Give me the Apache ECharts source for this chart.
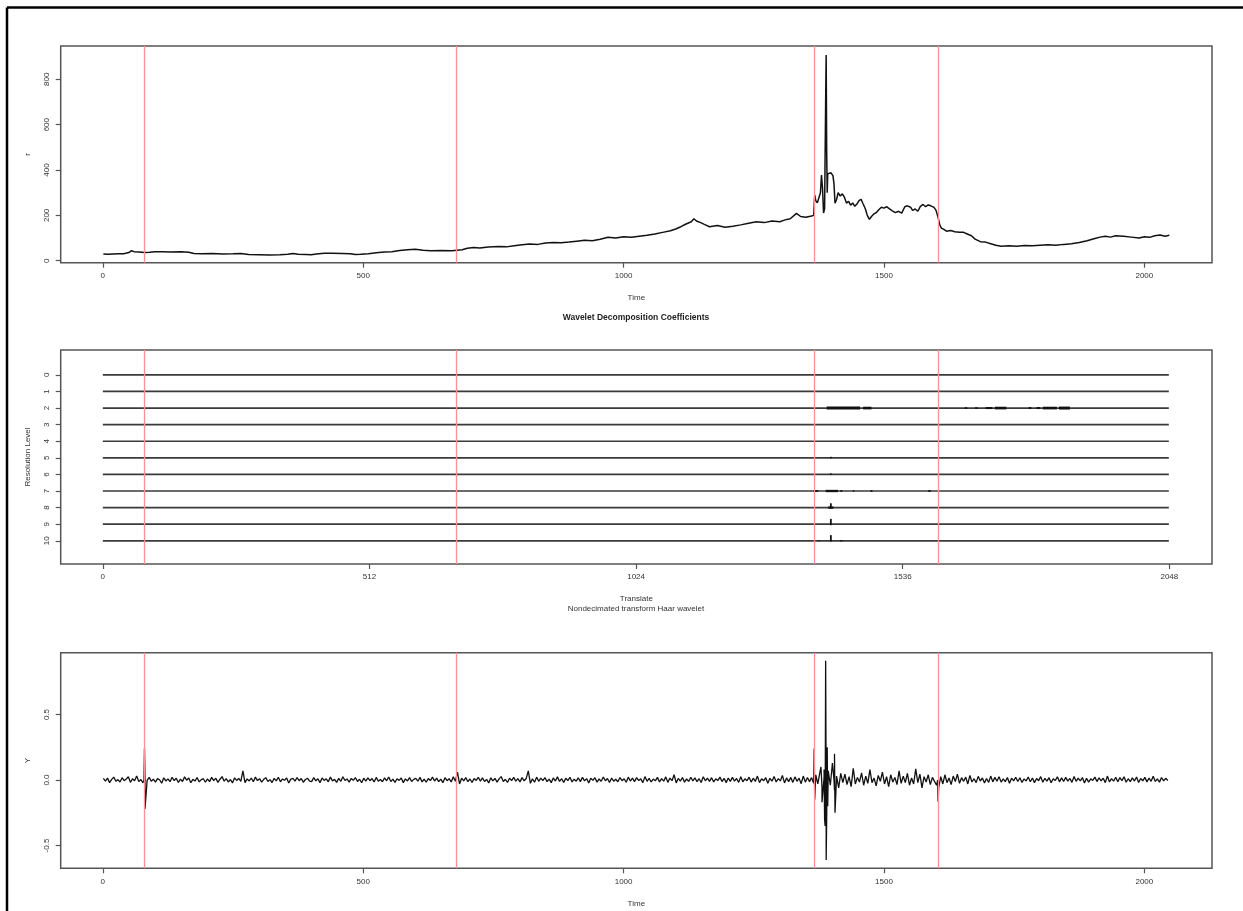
<!DOCTYPE html>
<html><head><meta charset="utf-8">
<script src="https://cdn.jsdelivr.net/npm/echarts@6/dist/echarts.min.js"></script>
<style>html,body{margin:0;padding:0;background:#fff}#c{width:1243px;height:911px}</style>
</head><body><div id="c"></div><script>
// ---------- DATA ----------
const topTime = [1,10,20,30,40,50,55,60,70,80,90,100,115,130,150,165,175,190,210,230,250,265,280,300,320,340,355,365,375,390,400,410,425,440,460,475,485,495,510,525,540,555,570,585,600,615,630,650,670,680,690,700,712,724,740,760,775,790,805,820,835,850,865,880,895,910,925,940,955,970,985,1000,1015,1030,1045,1060,1075,1090,1100,1110,1120,1130,1135,1140,1148,1155,1165,1180,1195,1210,1225,1240,1255,1270,1285,1300,1310,1320,1332,1340,1350,1361,1365,1367,1369,1372,1375,1378,1380,1382,1384,1386,1388,1389,1390,1391,1392,1395,1398,1402,1404,1406,1409,1412,1416,1420,1424,1428,1432,1436,1440,1444,1448,1452,1456,1460,1464,1468,1472,1476,1480,1485,1490,1495,1500,1505,1510,1516,1522,1528,1534,1540,1545,1551,1555,1560,1565,1570,1575,1580,1585,1590,1596,1600,1604,1607,1610,1615,1620,1628,1636,1645,1653,1660,1668,1675,1685,1695,1705,1715,1725,1740,1755,1770,1785,1800,1815,1830,1845,1860,1875,1890,1905,1915,1925,1935,1945,1960,1975,1990,2000,2010,2020,2030,2040,2048];
const topPrice = [30,29,30,31,31,36,44,40,38,36,37,39,40,38,40,37,32,31,32,30,31,32,27,26,25,26,28,32,28,27,26,30,33,33,32,31,27,28,31,35,38,40,45,48,50,46,44,45,44,46,48,55,58,56,60,63,61,66,70,74,72,78,80,79,82,86,90,88,95,103,100,106,103,108,112,118,125,132,140,150,162,172,185,175,168,160,150,155,148,152,158,165,172,168,175,172,180,185,209,195,192,197,200,290,265,255,262,300,378,320,210,230,700,907,480,300,383,380,388,375,340,254,270,300,285,295,280,254,262,245,255,240,250,265,271,250,230,200,182,195,205,212,225,236,232,238,230,220,212,218,210,238,242,236,222,228,218,240,248,238,246,242,235,222,190,160,144,138,130,133,128,126,125,118,110,95,84,82,75,68,64,66,64,67,66,68,70,68,72,75,80,88,98,104,108,104,110,108,104,100,106,103,110,113,108,112];

// returns, sampled every 4 time steps from t = 1, in thousandths
const retStartTime = 1;
const retStep = 4;
const retThousandths = [
12,-8,15,-20,5,22,-10,3,-15,18,-5,8,25,-18,10,-6,30,-12,4,-22,14,-3,20,-9,6,-16,11,2,-25,17,-7,9,-13,21,-4,13,-19,7,-11,24,-2,16,-21,5,-8,19,-14,3,10,-17,
8,-12,20,-5,14,-18,6,26,-9,11,-15,4,-22,17,-3,12,-10,70,-20,9,-7,15,-13,22,-4,10,-16,5,18,-11,3,-19,13,-6,21,-14,8,-2,16,-23,7,12,-9,19,-5,11,-17,4,14,-8,
-12,18,-6,10,-20,15,-3,9,-14,22,-7,5,-18,13,-10,25,-4,8,-16,12,-2,19,-11,6,-21,14,-8,17,-5,11,-15,20,-9,4,-13,16,-6,23,-12,7,-18,10,-3,15,-20,9,-7,18,-11,5,
13,-9,20,-14,6,-17,11,-4,22,-8,15,-12,7,-20,18,-5,10,-15,25,-10,60,-30,14,-6,19,-13,8,-18,12,-3,21,-9,16,-11,5,-22,17,-7,13,-16,9,26,-12,6,-19,14,-4,20,-8,11,
-14,18,-6,12,70,-25,9,-17,22,-10,15,-5,19,-13,7,-20,16,-8,24,-11,10,-18,13,-4,21,-15,6,-9,17,-12,20,-7,11,-22,14,-3,18,-16,8,-10,23,-6,12,-19,15,-9,6,-13,19,-5,
10,-17,22,-8,14,-12,18,-4,9,-20,26,-10,13,-15,7,-6,20,-14,11,-9,24,-18,15,-5,40,-22,12,-8,19,-16,8,-11,21,-7,16,-13,10,-19,25,-6,14,-10,18,-15,9,-4,22,-12,13,-20,
15,-10,20,-8,12,-18,25,-14,9,-6,22,-16,14,-11,30,-20,10,-5,18,-24,13,-9,27,-15,11,-7,35,-22,16,-12,20,-18,24,-10,14,-28,30,-16,19,-12,
18,-25,40,-30,60,-55,20,-90,70,-40,130,-80,30,-60,50,-20,45,-35,25,-50,90,-30,20,-15,55,-40,30,-25,80,-20,15,-45,35,-10,60,-30,25,-50,40,-15,20,-35,70,-25,30,-20,50,-40,15,-30,85,-20,45,-60,25,-15,40,-35,20,-10,
-40,-60,25,-30,40,-20,15,-35,30,-12,45,-25,18,-10,22,-30,35,-15,10,-20,28,-8,16,-22,12,-18,30,-14,20,-9,25,-16,8,-12,19,-24,14,-6,21,-11,17,-19,9,-7,23,-13,15,-20,11,-5,26,-17,13,-9,18,-21,10,-4,24,-14,16,-11,20,-8,12,-18,27,-10,15,-6,19,-23,13,-16,9,-3,22,-12,17,-7,14,-20,30,-15,11,-9,21,-13,18,-5,25,-17,10,-12,16,-8,23,-19,12,-6,20,-14,15,-10,28,-11,9,-16,19,-7,13,-4
];
const retSpikeTime  = [79,80,81,1366,1367,1379,1381,1385,1386,1387,1388,1389,1390,1391,1392,1404,1405,1406,1603,1604];
const retSpikeValue = [0.0,0.24,-0.22,0.24,-0.15,0.10,-0.17,0.08,-0.30,-0.35,0.91,-0.61,-0.30,0.25,-0.20,0.0,0.20,-0.25,0.0,-0.165];

const breakTimes = [80, 678, 1366, 1604];

const levels = [0,1,2,3,4,5,6,7,8,9,10];
const levelLineRange = [0, 2047];
// [level, start, end, half-height] dense coefficient clusters
const coefBlocks = [
  [2,1390,1454,0.09],[2,1460,1476,0.08],[2,1655,1660,0.05],[2,1675,1680,0.05],[2,1695,1708,0.06],
  [2,1713,1735,0.08],[2,1778,1783,0.06],[2,1793,1800,0.06],[2,1805,1832,0.08],[2,1836,1857,0.09],
  [7,1365,1374,0.05],[7,1388,1412,0.07],[7,1416,1420,0.05],[7,1440,1443,0.04],[7,1474,1478,0.05],[7,1585,1590,0.05],
  [8,1393,1403,0.07],[10,1416,1420,0.04],[10,1373,1376,0.03]
];
// [level, time, up, down] single large coefficients
const coefSpikes = [
  [5,1398,0.06,0.03],[6,1398,0.06,0.03],[8,1398,0.26,0.05],[9,1398,0.32,0.06],[10,1398,0.34,0.05]
];

const timeTicks = [0,500,1000,1500,2000];
const translateTicks = [0,512,1024,1536,2048];
const topTicks = [0,200,400,600,800];
const levelTicks = [0,1,2,3,4,5,6,7,8,9,10];
const bottomTicks = [-0.5,0,0.5];

// ---------- BUILD ----------
const topData = topTime.map((t,i)=>[t, topPrice[i]]);
const retData = retThousandths.map((v,i)=>[retStartTime + retStep*i, v/1000])
  .concat(retSpikeTime.map((t,i)=>[t, retSpikeValue[i]]))
  .sort((a,b)=>a[0]-b[0]);

const FONT = 'Liberation Sans, Arial, sans-serif';
const TXT = '#333';
const BOX = '#555';

function xAxis(gridIndex, ticks, name){
  return {
    type:'value', gridIndex, min:-80.9, max:2129.9,
    name, nameLocation:'middle', nameGap:31,
    nameTextStyle:{fontSize:8, color:TXT, fontFamily:FONT},
    splitLine:{show:false}, axisLine:{show:false, onZero:false},
    axisTick:{show:true, customValues:ticks, length:5, lineStyle:{color:BOX, width:1.2}},
    axisLabel:{show:true, customValues:ticks, fontSize:8, color:TXT, fontFamily:FONT, margin:9, formatter:v=>String(v)}
  };
}
function yAxis(gridIndex, min, max, ticks, name, fmt, inverse){
  return {
    type:'value', gridIndex, min, max, inverse:!!inverse,
    name, nameLocation:'middle', nameGap:29, nameRotate:90,
    nameTextStyle:{fontSize:8, color:TXT, fontFamily:FONT},
    splitLine:{show:false}, axisLine:{show:false, onZero:false},
    axisTick:{show:true, customValues:ticks, length:5, lineStyle:{color:BOX, width:1.2}},
    axisLabel:{show:true, customValues:ticks, rotate:90, fontSize:8, color:TXT, fontFamily:FONT, margin:10, formatter:fmt}
  };
}
const redMarks = {
  silent:true, symbol:['none','none'], animation:false,
  label:{show:false},
  lineStyle:{color:'#ff9090', width:1.3, type:'solid'},
  emphasis:{disabled:true},
  data: breakTimes.map(t=>({xAxis:t}))
};
const gridBase = {left:60.7, width:1151.3, show:true, borderColor:BOX, borderWidth:1.5, backgroundColor:'transparent'};

const levelSeries = levels.map(l=>({
  type:'line', xAxisIndex:1, yAxisIndex:1, silent:true, symbol:'none', animation:false,
  data: levelLineRange.map(t=>[t,l]),
  lineStyle:{color:'#3a3a3a', width:1.7}, z:2
}));
levelSeries[0].markLine = redMarks;

const chart = echarts.init(document.getElementById('c'), null, {renderer:'canvas'});
chart.setOption({
  backgroundColor:'#fff',
  animation:false,
  grid:[
    Object.assign({top:46, height:216.7}, gridBase),
    Object.assign({top:350, height:214}, gridBase),
    Object.assign({top:652.7, height:215.6}, gridBase)
  ],
  xAxis:[ xAxis(0, timeTicks, 'Time'), xAxis(1, translateTicks, 'Translate'), xAxis(2, timeTicks, 'Time') ],
  yAxis:[
    yAxis(0, -8.8, 946.9, topTicks, 'r', v=>String(v)),
    yAxis(1, -1.5, 11.4, levelTicks, 'Resolution Level', v=>String(v), true),
    yAxis(2, -0.674, 0.972, bottomTicks, 'Y', v=>v.toFixed(1))
  ],
  graphic:[
    {type:'line', shape:{x1:7,y1:7.5,x2:1243,y2:7.5}, style:{stroke:'#000', lineWidth:2.5}},
    {type:'line', shape:{x1:7,y1:7.5,x2:7,y2:911}, style:{stroke:'#000', lineWidth:2.5}},
    {type:'text', x:636, y:318, style:{text:'Wavelet Decomposition Coefficients', fontSize:8.5, fontWeight:'bold', fill:'#222', fontFamily:FONT, align:'center', verticalAlign:'middle'}},
    {type:'text', x:636, y:609, style:{text:'Nondecimated transform Haar wavelet', fontSize:8, fill:TXT, fontFamily:FONT, align:'center', verticalAlign:'middle'}}
  ],
  series:[
    {type:'line', xAxisIndex:0, yAxisIndex:0, data:topData, symbol:'none', silent:true,
     lineStyle:{color:'#111', width:1.5}, markLine:redMarks},
    ...levelSeries,
    {type:'custom', xAxisIndex:1, yAxisIndex:1, silent:true, z:4, data:coefBlocks, encode:{x:[1,2], y:0},
     renderItem:function(p, api){
       const l=api.value(0), t0=api.value(1), t1=api.value(2), h=api.value(3);
       const a=api.coord([t0, l-h]), b=api.coord([t1, l+h]);
       return {type:'rect', shape:{x:Math.min(a[0],b[0]), y:Math.min(a[1],b[1]), width:Math.max(1.5,Math.abs(b[0]-a[0])), height:Math.max(1,Math.abs(b[1]-a[1]))}, style:{fill:'#111'}};
     }},
    {type:'custom', xAxisIndex:1, yAxisIndex:1, silent:true, z:4, data:coefSpikes, encode:{x:1, y:0},
     renderItem:function(p, api){
       const l=api.value(0), t=api.value(1), up=api.value(2), dn=api.value(3);
       const a=api.coord([t, l-up]), b=api.coord([t, l+dn]);
       return {type:'line', shape:{x1:a[0], y1:a[1], x2:b[0], y2:b[1]}, style:{stroke:'#111', lineWidth:1.8}};
     }},
    {type:'line', xAxisIndex:2, yAxisIndex:2, data:retData, symbol:'none', silent:true,
     lineStyle:{color:'#111', width:1.3}, markLine:redMarks}
  ]
});
</script></body></html>
